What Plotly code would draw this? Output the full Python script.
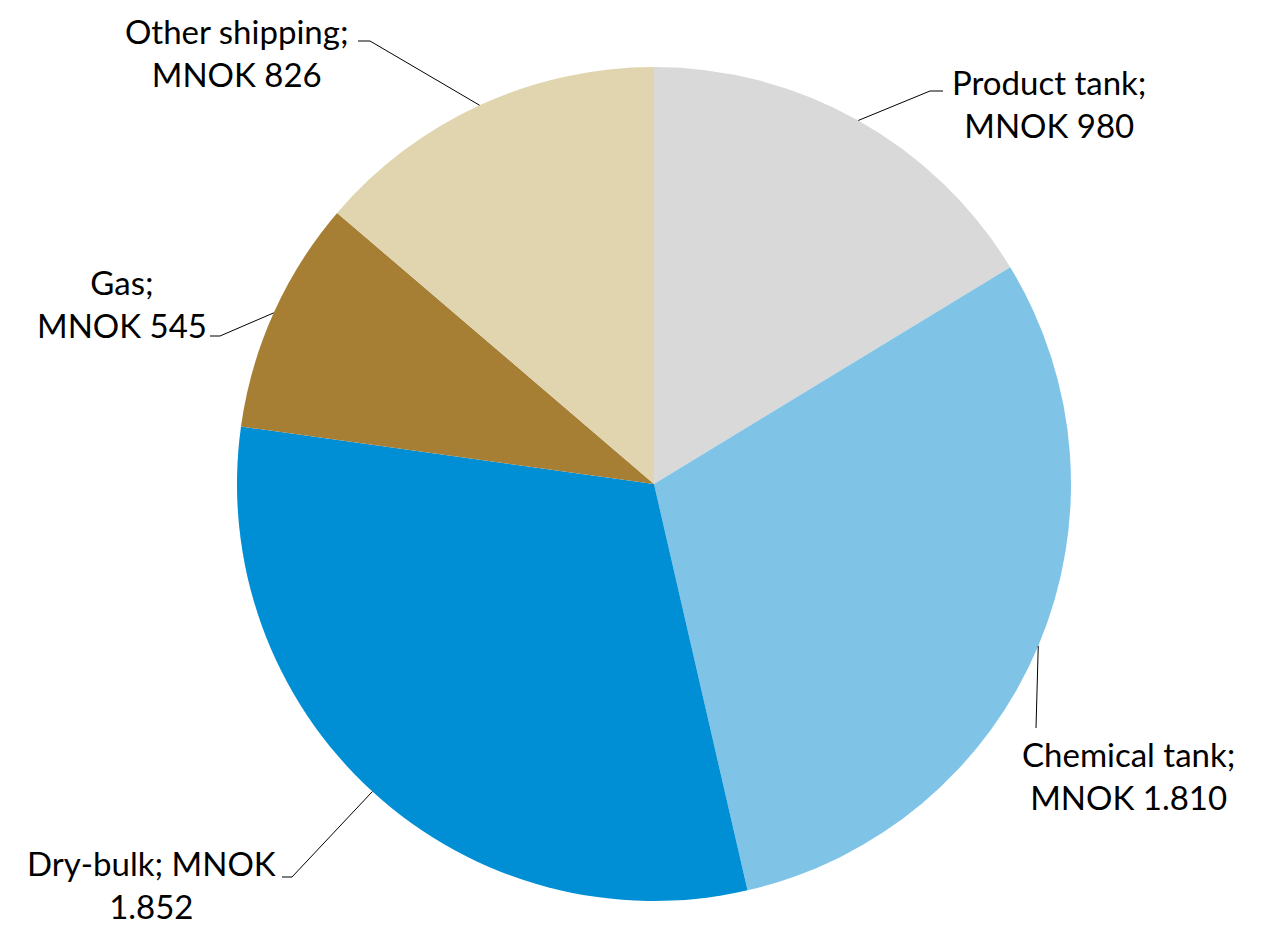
import math
import plotly.graph_objects as go

# ---- data ----
categories = ["Product tank", "Chemical tank", "Dry-bulk", "Gas", "Other shipping"]
values = [980, 1810, 1852, 545, 826]
value_labels = ["980", "1.810", "1.852", "545", "826"]
label_texts = [
    "Product tank;<br>MNOK 980",
    "Chemical tank;<br>MNOK 1.810",
    "Dry-bulk; MNOK<br>1.852",
    "Gas;<br>MNOK 545",
    "Other shipping;<br>MNOK 826",
]

# ---- style / layout ----
colors = ["#D9D9D9", "#7FC4E7", "#008FD5", "#A67F35", "#E0D5AF"]
W, H = 1261, 927
CX, CY, R = 654, 484, 417  # pixel center & radius of pie
# label block centers (px) and leader elbow / end points (px)
label_pos = [(1049, 103), (1128, 775), (151, 884), (122, 303), (237, 53)]
elbows = [(930, 91), (1036, 728), (292, 877), (220, 336), (370, 41)]
ends = [(943, 91), (1036, 728), (282, 877), (210, 336), (358, 41)]

def px2paper(x, y):
    return x / W, 1 - y / H

fig = go.Figure()
fig.add_trace(go.Pie(
    labels=categories,
    values=values,
    marker=dict(colors=colors, line=dict(width=0)),
    sort=False,
    direction="clockwise",
    rotation=0,
    textinfo="none",
    hoverinfo="label+value",
    domain=dict(x=[(CX - R) / W, (CX + R) / W],
                y=[(H - CY - R) / H, (H - CY + R) / H]),
    showlegend=False,
))

total = sum(values)
cum = 0
shapes = []
annotations = []
for i, v in enumerate(values):
    mid = (cum + v / 2) / total * 2 * math.pi
    cum += v
    sx = CX + R * math.sin(mid)
    sy = CY - R * math.cos(mid)
    pts = [(sx, sy), elbows[i], ends[i]]
    for (x0, y0), (x1, y1) in zip(pts[:-1], pts[1:]):
        if (x0, y0) == (x1, y1):
            continue
        a0 = px2paper(x0, y0)
        a1 = px2paper(x1, y1)
        shapes.append(dict(type="line", xref="paper", yref="paper",
                           x0=a0[0], y0=a0[1], x1=a1[0], y1=a1[1],
                           line=dict(color="#000000", width=1)))
    lx, ly = px2paper(*label_pos[i])
    annotations.append(dict(text=label_texts[i], x=lx, y=ly, xref="paper", yref="paper",
                            xanchor="center", yanchor="middle", align="center",
                            showarrow=False,
                            font=dict(family="Lato", size=33, color="#000000")))

fig.update_layout(
    width=W, height=H,
    margin=dict(l=0, r=0, t=0, b=0),
    paper_bgcolor="white", plot_bgcolor="white",
    shapes=shapes, annotations=annotations,
)
fig.write_html(
    "out.html",
    config={"displayModeBar": False},
    post_script="document.body.style.margin='0';document.body.style.overflow='hidden';",
)
